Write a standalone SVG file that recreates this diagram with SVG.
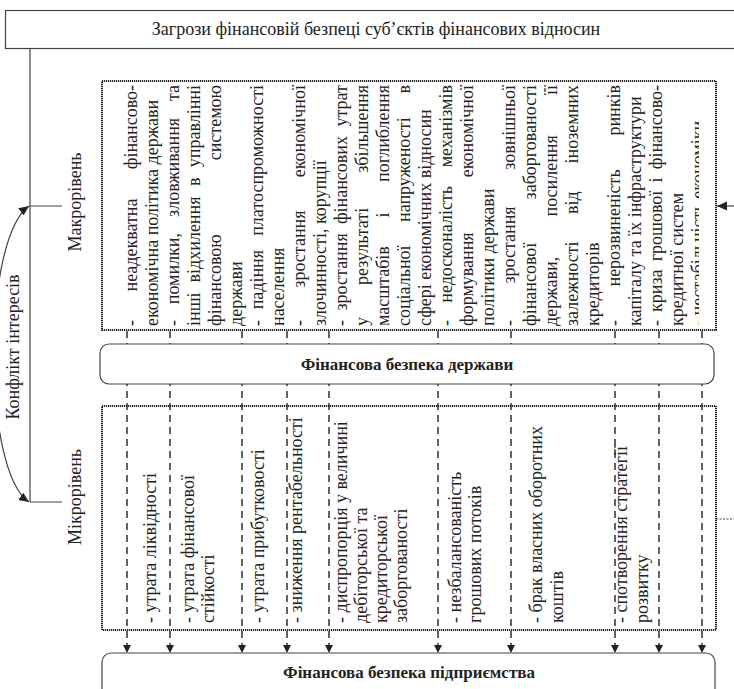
<svg xmlns="http://www.w3.org/2000/svg" width="734" height="689" viewBox="0 0 734 689">
<style>
text{font-family:"Liberation Serif","Times New Roman",serif;font-size:18px;fill:#222}
.b{font-weight:bold;font-size:17px;text-anchor:middle}
.e{text-anchor:end}
.m{text-anchor:middle}
.dotbox{fill:none;stroke:#222;stroke-width:2;stroke-dasharray:1.2 0.8}
.box{fill:#fff;stroke:#444;stroke-width:1.2}
.line{fill:none;stroke:#444;stroke-width:1.2}
.dash{fill:none;stroke:#222;stroke-width:1.4;stroke-dasharray:7 5;marker-end:url(#ah)}
</style>
<defs>
<marker id="ah" markerWidth="9" markerHeight="9" refX="8" refY="4.5" orient="auto" markerUnits="userSpaceOnUse"><path d="M0,0.5 L8,4.5 L0,8.5 Z" fill="#222"/></marker>
<marker id="ah2" markerWidth="11" markerHeight="10" refX="10" refY="5" orient="auto-start-reverse" markerUnits="userSpaceOnUse"><path d="M0,0.5 L10,5 L0,9.5 Z" fill="#222"/></marker>
<clipPath id="clipMacro" clipPathUnits="userSpaceOnUse"><rect x="103" y="82" width="596" height="247"/></clipPath>
</defs>

<g id="connectors">
<path class="line" d="M30,48 V502 M30,206 H62 M30,502 H62"/>
<path class="line" d="M29,206 C-18,240 -18,470 29,502" stroke="#222" stroke-width="1.4" marker-start="url(#ah2)" marker-end="url(#ah2)"/>
<path class="line" d="M734,206 H717" marker-end="url(#ah2)"/>
<path class="line" d="M716,519 H734" stroke-dasharray="2 1.5"/>
<path class="dash" d="M127,331 V653"/>
<path class="dash" d="M170,331 V653"/>
<path class="dash" d="M242,331 V653"/>
<path class="dash" d="M287,331 V653"/>
<path class="dash" d="M329,331 V653"/>
<path class="dash" d="M438,331 V653"/>
<path class="dash" d="M511,331 V653"/>
<path class="dash" d="M615,331 V653"/>
<path class="dash" d="M659,331 V653"/>
<path class="dash" d="M702,331 V653"/>
</g>

<g id="title">
<rect class="box" x="5.5" y="10.5" width="740" height="38"/>
<text x="376" y="35" class="m">Загрози фінансовій безпеці суб’єктів фінансових відносин</text>
</g>

<g id="conflict">
<text transform="translate(19,347) rotate(-90)" class="m">Конфлікт інтересів</text>
</g>

<g id="macro-label">
<text transform="translate(81,202) rotate(-90)" class="m">Макрорівень</text>
</g>
<g id="micro-label">
<text transform="translate(81,497) rotate(-90)" class="m">Мікрорівень</text>
</g>

<g id="macro-threats">
<rect class="dotbox" x="102" y="81" width="614" height="249"/>
<g clip-path="url(#clipMacro)">
<g transform="rotate(-90)">
<text x="-326" y="137">-</text><text x="-291.5" y="137">неадекватна</text><text x="-85" y="137" class="e">фінансово-</text>
<text x="-326" y="158">економічна політика держави</text>
<text x="-326" y="179">-</text><text x="-304.2" y="179">помилки,</text><text x="-216.9" y="179">зловживання</text><text x="-85" y="179" class="e">та</text>
<text x="-326" y="200">інші</text><text x="-282.4" y="200">відхилення</text><text x="-186.1" y="200">в</text><text x="-85" y="200" class="e">управлінні</text>
<text x="-326" y="221">фінансовою</text><text x="-85" y="221" class="e">системою</text>
<text x="-326" y="242">держави</text>
<text x="-326" y="263">-</text><text x="-309.3" y="263">падіння</text><text x="-85" y="263" class="e">платоспроможності</text>
<text x="-326" y="284">населення</text>
<text x="-326" y="305">-</text><text x="-287.7" y="305">зростання</text><text x="-85" y="305" class="e">економічної</text>
<text x="-326" y="326">злочинності, корупції</text>
<text x="-326" y="347">-</text><text x="-310.5" y="347">зростання</text><text x="-224.1" y="347">фінансових</text><text x="-85" y="347" class="e">утрат</text>
<text x="-326" y="368">у</text><text x="-284.9" y="368">результаті</text><text x="-85" y="368" class="e">збільшення</text>
<text x="-326" y="389">масштабів</text><text x="-217.5" y="389">і</text><text x="-85" y="389" class="e">поглиблення</text>
<text x="-326" y="410">соціальної</text><text x="-222" y="410">напруженості</text><text x="-85" y="410" class="e">в</text>
<text x="-326" y="431">сфері економічних відносин</text>
<text x="-326" y="452">-</text><text x="-302.7" y="452">недосконалість</text><text x="-85" y="452" class="e">механізмів</text>
<text x="-326" y="473">формування</text><text x="-85" y="473" class="e">економічної</text>
<text x="-326" y="494">політики держави</text>
<text x="-326" y="515">-</text><text x="-283.6" y="515">зростання</text><text x="-85" y="515" class="e">зовнішньої</text>
<text x="-326" y="536">фінансової</text><text x="-85" y="536" class="e">заборгованості</text>
<text x="-326" y="557">держави,</text><text x="-216.5" y="557">посилення</text><text x="-85" y="557" class="e">її</text>
<text x="-326" y="578">залежності</text><text x="-214" y="578">від</text><text x="-85" y="578" class="e">іноземних</text>
<text x="-326" y="599">кредиторів</text>
<text x="-326" y="620">-</text><text x="-286.5" y="620">нерозвиненість</text><text x="-85" y="620" class="e">ринків</text>
<text x="-326" y="641">капіталу та їх інфраструктури</text>
<text x="-326" y="662">-</text><text x="-311.9" y="662">криза</text><text x="-261.3" y="662">грошової</text><text x="-182.5" y="662">і</text><text x="-85" y="662" class="e">фінансово-</text>
<text x="-326" y="683">кредитної систем</text>
<text x="-326" y="704">- нестабільність економіки</text>
</g>
</g>
</g>

<g id="state-security">
<rect class="box" x="100" y="344" width="614" height="40" rx="9"/>
<text x="407" y="370" class="b">Фінансова безпека держави</text>
</g>

<g id="micro-threats">
<rect class="dotbox" x="102" y="406" width="614" height="224"/>
<g transform="rotate(-90)">
<text x="-623" y="156">- утрата ліквідності</text>
<text x="-623" y="194">- утрата фінансової</text>
<text x="-623" y="214">стійкості</text>
<text x="-623" y="264">- утрата прибутковості</text>
<text x="-623" y="302">- зниження рентабельності</text>
<text x="-623" y="347">- диспропорція у величині</text>
<text x="-623" y="367">дебіторської та</text>
<text x="-623" y="387">кредиторської</text>
<text x="-623" y="407">заборгованості</text>
<text x="-623" y="461">- незбалансованість</text>
<text x="-623" y="481">грошових потоків</text>
<text x="-623" y="542">- брак власних оборотних</text>
<text x="-623" y="563">коштів</text>
<text x="-623" y="627">- спотворення стратегії</text>
<text x="-623" y="648">розвитку</text>
</g>
</g>

<g id="enterprise-security">
<rect class="box" x="102" y="653" width="613" height="60" rx="9"/>
<text x="409" y="678" class="b">Фінансова безпека підприємства</text>
</g>
</svg>
